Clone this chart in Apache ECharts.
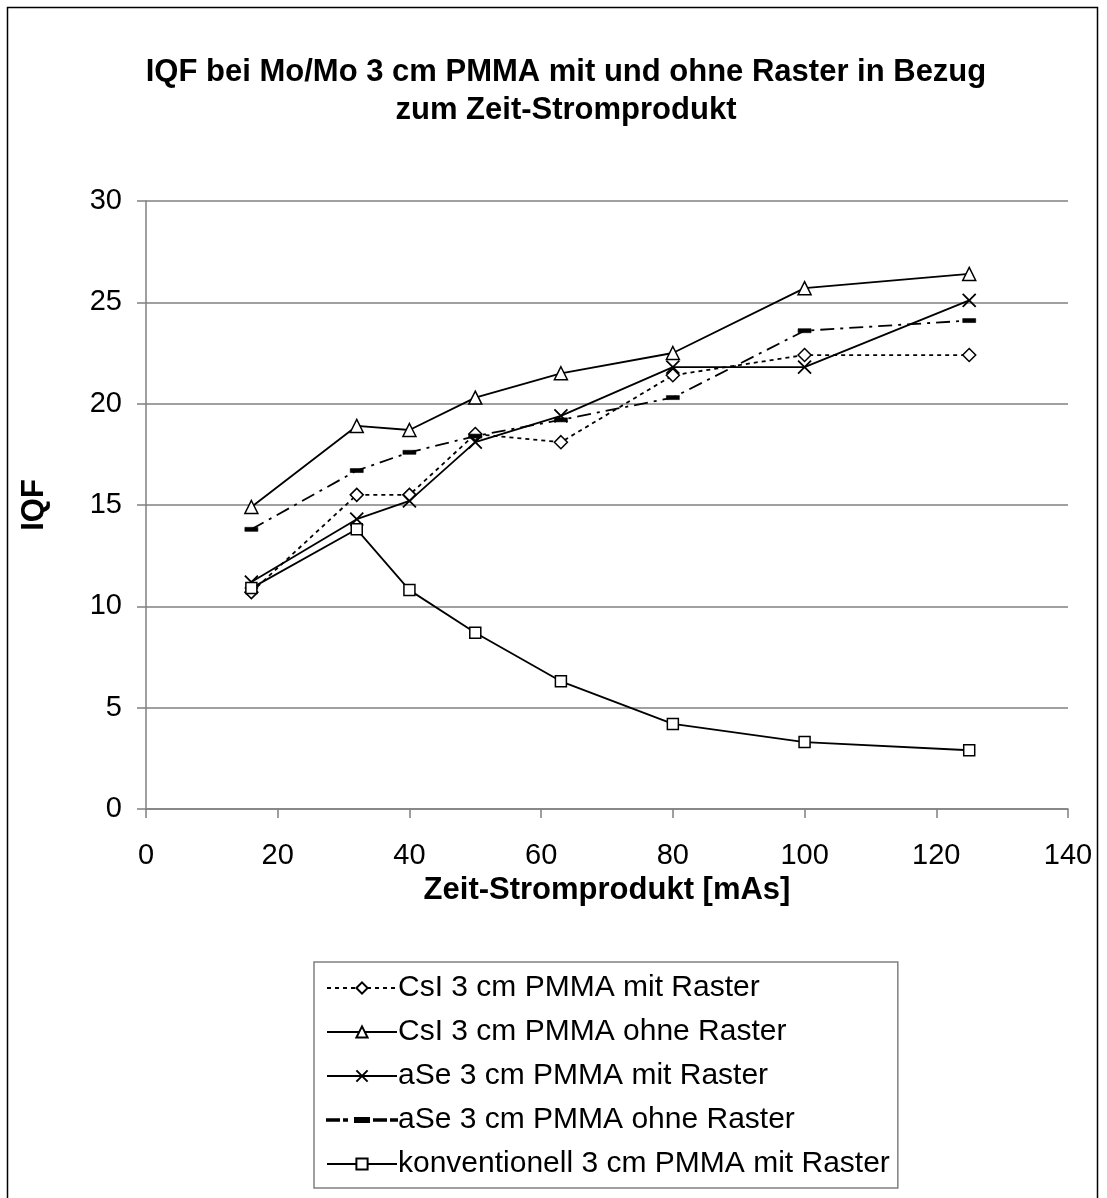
<!DOCTYPE html>
<html><head><meta charset="utf-8">
<script src="https://cdn.jsdelivr.net/npm/echarts@6/dist/echarts.min.js"></script>
<style>html,body{margin:0;padding:0;background:#fff}#c{width:1107px;height:1198px}</style>
</head><body><div id="c"></div>
<script>
const xValues = [16, 32, 40, 50, 63, 80, 100, 125];
const csiMit   = [10.7, 15.5, 15.5, 18.5, 18.1, 21.4, 22.4, 22.4];
const csiOhne  = [14.9, 18.9, 18.7, 20.3, 21.5, 22.5, 25.7, 26.4];
const aseMit   = [11.2, 14.3, 15.2, 18.1, 19.4, 21.8, 21.8, 25.1];
const aseOhne  = [13.8, 16.7, 17.6, 18.4, 19.2, 20.3, 23.6, 24.1];
const konv     = [10.9, 13.8, 10.8, 8.7, 6.3, 4.2, 3.3, 2.9];
const seriesNames = [
  'CsI 3 cm PMMA mit Raster',
  'CsI 3 cm PMMA ohne Raster',
  'aSe 3 cm PMMA mit Raster',
  'aSe 3 cm PMMA ohne Raster',
  'konventionell 3 cm PMMA mit Raster'
];
const pair = arr => xValues.map((x, i) => [x, arr[i]]);
const FONT = '"Liberation Sans", Arial, sans-serif';
const crossPath = 'path://M0,0L10,10M10,0L0,10';
const aseOhneLegendIcon = 'path://M0,6.25H12V7.75H0ZM17,6.25H20V7.75H17ZM28,5H42V9H28ZM47,6.25H59V7.75H47ZM64,6.25H70V7.75H64Z';

const chart = echarts.init(document.getElementById('c'), null, {renderer: 'canvas'});
const base = {
  type: 'line',
  showSymbol: true,
  itemStyle: {color: '#fff', borderColor: '#000', borderWidth: 1.5},
  emphasis: {disabled: true},
  z: 3
};
chart.setOption({
  backgroundColor: '#fff',
  animation: false,
  title: {
    text: 'IQF bei Mo/Mo 3 cm PMMA mit und ohne Raster in Bezug\nzum Zeit-Stromprodukt',
    left: 561, top: 48, textAlign: 'center',
    textStyle: {fontFamily: FONT, fontSize: 31, fontWeight: 'bold', color: '#000', lineHeight: 38}
  },
  graphic: [{
    type: 'rect', shape: {x: 7.5, y: 7.5, width: 1090, height: 1210},
    style: {fill: 'none', stroke: '#000', lineWidth: 1.5}, silent: true
  }],
  grid: {left: 146, top: 201, width: 922, height: 608, containLabel: false},
  xAxis: {
    type: 'value', min: 0, max: 140, interval: 20,
    name: 'Zeit-Stromprodukt [mAs]', nameLocation: 'middle', nameGap: 62,
    nameTextStyle: {fontFamily: FONT, fontSize: 31, fontWeight: 'bold', color: '#000'},
    axisLine: {show: true, lineStyle: {color: '#808080', width: 1.5}},
    axisTick: {show: true, length: 9, lineStyle: {color: '#808080', width: 1.5}},
    axisLabel: {fontFamily: FONT, fontSize: 29, color: '#000', margin: 32},
    splitLine: {show: false}
  },
  yAxis: {
    type: 'value', min: 0, max: 30, interval: 5,
    name: 'IQF', nameLocation: 'middle', nameGap: 96, nameRotate: 90,
    nameTextStyle: {fontFamily: FONT, fontSize: 31, fontWeight: 'bold', color: '#000'},
    axisLine: {show: true, lineStyle: {color: '#808080', width: 1.5}},
    axisTick: {show: true, length: 9, lineStyle: {color: '#808080', width: 1.5}},
    axisLabel: {fontFamily: FONT, fontSize: 29, color: '#000', margin: 24},
    splitLine: {show: true, lineStyle: {color: '#808080', width: 1.5}}
  },
  legend: {
    orient: 'vertical', left: 314, top: 962,
    padding: [11, 8, 9, 12],
    borderColor: '#808080', borderWidth: 1.5,
    itemWidth: 70, itemHeight: 14, itemGap: 14,
    symbolKeepAspect: true,
    textStyle: {fontFamily: FONT, fontSize: 30, lineHeight: 30, color: '#000', padding: [0, 0, 0, -4]},
    data: [
      seriesNames[0], seriesNames[1], seriesNames[2],
      {name: seriesNames[3], icon: aseOhneLegendIcon},
      seriesNames[4]
    ]
  },
  series: [
    Object.assign({}, base, {name: seriesNames[0], data: pair(csiMit), symbol: 'diamond', symbolSize: 13,
      lineStyle: {color: '#000', width: 1.8, type: [4, 4]}}),
    Object.assign({}, base, {name: seriesNames[1], data: pair(csiOhne), symbol: 'triangle', symbolSize: 13,
      lineStyle: {color: '#000', width: 1.8, type: 'solid'}}),
    Object.assign({}, base, {name: seriesNames[2], data: pair(aseMit), symbol: crossPath, symbolSize: 13,
      itemStyle: {color: 'none', borderColor: '#000', borderWidth: 1.8},
      lineStyle: {color: '#000', width: 1.8, type: 'solid'}}),
    Object.assign({}, base, {name: seriesNames[3], data: pair(aseOhne), symbol: 'rect', symbolSize: [13, 4],
      itemStyle: {color: '#000', borderColor: '#000', borderWidth: 0.5},
      lineStyle: {color: '#000', width: 1.8, type: [14, 6, 3, 6]}}),
    Object.assign({}, base, {name: seriesNames[4], data: pair(konv), symbol: 'rect', symbolSize: 11,
      lineStyle: {color: '#000', width: 1.8, type: 'solid'}})
  ]
});
</script>
</body></html>
